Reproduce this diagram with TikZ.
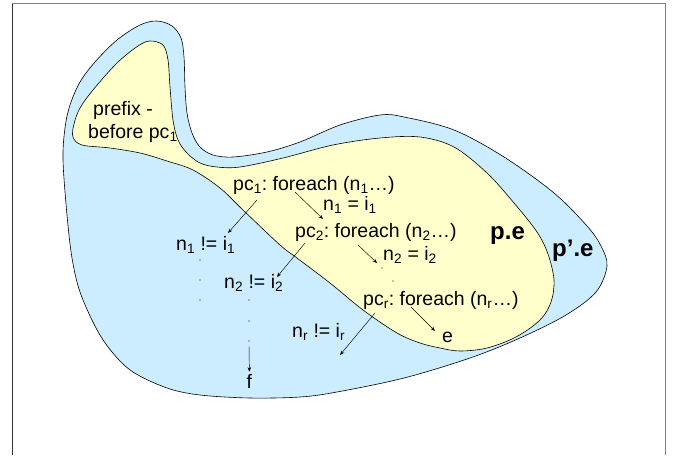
\documentclass[tikz,border=0pt]{standalone}
\usepackage{fontspec}
\setmainfont{Liberation Sans}
\usepackage{xcolor}
\usetikzlibrary{arrows.meta,calc}
\definecolor{outerblue}{HTML}{CCECFF}
\definecolor{inneryellow}{HTML}{FFFFCC}
\frenchspacing

\begin{document}
\begin{tikzpicture}[
  x=1pt, y=-1pt,
  region/.style={draw=black, line width=0.6pt},
  lbl/.style={anchor=base west, inner sep=0pt, font=\fontsize{19.5}{22}\selectfont},
  biglbl/.style={anchor=base west, inner sep=0pt, font=\fontsize{24}{28}\selectfont\bfseries},
  arrow/.style={-{Stealth[length=4.5pt,width=3.5pt]}, line width=0.45pt},
  dot/.style={fill=black}
]
\useasboundingbox (0,0) rectangle (677,455);
\draw[black!80, line width=0.8pt] (12,455) -- (12,3);
\draw[gray, line width=0.8pt] (12,3) -- (665,3) -- (665,455);

\draw[region, fill=outerblue] plot[smooth cycle, tension=0.55] coordinates {
  (157,21) (172,26) (181,38) (184,57) (185,87) (187,113) (192,133) (200,147)
  (213,155) (233,157) (267,152) (300,142) (340,125) (380,115) (404,117)
  (454,130) (504,157) (554,193) (587,226) (601,246) (607,266) (596,292)
  (566,315) (520,338) (470,358) (404,378) (337,392) (300,397) (250,398)
  (200,395) (167,388) (133,372) (112,352) (96,328) (80,292) (72,258)
  (67,215) (63,160) (65,128) (70,105) (80,82) (95,62) (117,40) (140,25)};

\draw[region, fill=inneryellow] plot[smooth cycle, tension=0.55] coordinates {
  (150,41) (163,45) (168,60) (170,87) (173,120) (178,140) (187,153) (200,163)
  (217,167) (240,167) (283,158) (333,145) (380,138) (420,137) (454,147)
  (487,173) (514,203) (537,232) (548,254) (554,280) (551,302) (540,320)
  (516,337) (487,348) (460,351) (440,348) (420,343) (397,333) (363,310)
  (330,283) (297,258) (280,245) (243,210) (220,188) (193,170) (167,161)
  (140,153) (110,148) (82,145) (73,137) (74,124) (80,108) (93,90) (117,63)
  (138,46)};

\node[lbl] (prefix) at (93,115) {prefix -};
\node[lbl] (before) at (88,138) {before pc\textsubscript{1}};
\node[lbl] (pc1) at (233,190) {pc\textsubscript{1}: foreach (n\textsubscript{1}…)};
\node[lbl] (eq1) at (323,210) {n\textsubscript{1} = i\textsubscript{1}};
\node[lbl] (pc2) at (295,237) {pc\textsubscript{2}: foreach (n\textsubscript{2}…)};
\node[lbl] (eq2) at (383,260) {n\textsubscript{2} = i\textsubscript{2}};
\node[lbl] (pcr) at (363,305) {pc\textsubscript{r}: foreach (n\textsubscript{r}…)};
\node[lbl] (e) at (442,342) {e};
\node[lbl] (ne1) at (176,250) {n\textsubscript{1} != i\textsubscript{1}};
\node[lbl] (ne2) at (224,288) {n\textsubscript{2} != i\textsubscript{2}};
\node[lbl] (ner) at (292,337) {n\textsubscript{r} != i\textsubscript{r}};
\node[lbl] (f) at (246.5,388) {f};
\node[biglbl] (pe) at (490,239) {p.e};
\node[biglbl] (ppe) at (552,256) {p’.e};

\coordinate (fdot) at (249,341);
\coordinate (rend) at (340,355);
\foreach \px/\py in {200/260, 200/280, 200/300, 249/300, 249/321, 382/268, 393/281}
  \fill[dot] (\px,\py) circle[radius=0.6pt];
\fill[dot] (fdot) circle[radius=0.6pt];

\draw[arrow] ($(pc1.base west)+(62,2)$) -- ($(pc2.base west)+(28,-18)$);
\draw[arrow] ($(pc1.base west)+(24,10)$) -- ($(ne1.base west)+(52,-17)$);
\draw[arrow] ($(pc2.base west)+(63,8)$) -- ($(eq2.base west)+(-6,3)$);
\draw[arrow] ($(pc2.base west)+(10,6)$) -- ($(ne2.base west)+(53,-11)$);
\draw[arrow] ($(pcr.base west)+(48,2)$) -- ($(e.base west)+(-7,-11)$);
\draw[arrow] ($(pcr.base west)+(12,8)$) -- (rend);
\draw[arrow, shorten >=2pt] ($(fdot)+(0,5)$) -- (f.north);
\end{tikzpicture}
\end{document}
